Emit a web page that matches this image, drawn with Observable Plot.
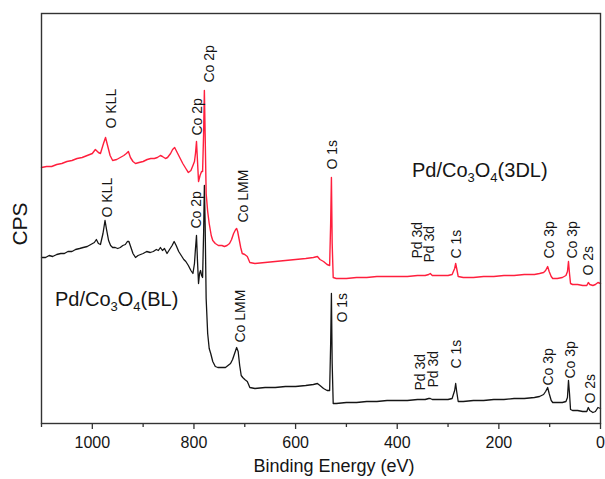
<!DOCTYPE html>
<html>
<head>
<meta charset="utf-8">
<script src="https://cdn.jsdelivr.net/npm/d3@7"></script>
<script src="https://cdn.jsdelivr.net/npm/@observablehq/plot@0.6"></script>
<style>
  html, body { margin: 0; padding: 0; background: #fff; }
  svg { display: block; }
</style>
</head>
<body>
<div id="chart"></div>
<script>
// ---- Data (binding energy in eV, intensity in arbitrary CPS units) ----
const ev3DL = [1100,1090,1080,1070,1060,1050,1040,1030,1020,1010,1000,994,988,984,978,974,970,965,960,952,945,938,933,929,925,920,915,908,900,892,885,878,872,866,862,856,852,846,842,838,834,828,822,816,811,806,802,799,797,795,793,791,788,785,783,781,779.5,778,776,773,770,766,763,758,752,745,740,735,730,726,722,718,716,714,711,708,705,700,695,690,680,660,640,620,600,580,565,557,552,545,538,533,531,529.5,528,526,520,500,480,460,440,420,400,380,360,345,338,335,331,320,300,292,287,285,283,280,270,250,230,210,190,170,150,130,120,112,108,104,101,97,94,85,75,68,65,63,61,59,55,45,35,27,24,21,15,10,5,0];
const cps3DL = [256,257,257,259,260,262,263,265,266,268,270,274,271,270,280,286,278,268,263,264,266,268,270,272,266,262,260,261,262,264,265,265,266,268,267,265,266,270,274,276,272,266,260,255,251,253,258,262,270,282,262,242,248,252,252,290,333,290,230,212,200,188,183,180,178,178,177,178,180,184,190,194,195,192,184,176,170,169,167,161,160,161,162,163,164,165,166,167,164,162,159,158,200,246,180,146,145,145,146,146,147,147,147,147,148,148,149,150,148,148,148,149,155,160,155,147,146,146,147,147,148,148,149,149,150,151,153,157,152,147,145,145,146,148,152,162,150,140,139,139,138,138,141,139,138,139,141,140];

const evBL = [1100,1092,1085,1078,1070,1062,1055,1048,1040,1033,1025,1018,1010,1003,996,992,988,984,979,975,972,968,964,960,955,950,945,940,935,931,928,924,920,915,910,905,900,893,886,880,874,870,866,862,858,853,848,843,839,835,830,825,820,816,811,806,802,799,797,795,793,791,789,787,785,783,781,779.5,778,776,773,770,767,763,758,753,745,738,733,728,724,720,716,713,710,707,704,700,695,690,680,660,640,620,600,580,565,557,552,545,538,533,531,529.5,528,526,520,500,480,460,440,420,400,380,360,345,338,335,331,320,300,292,287,285,283,280,270,250,230,210,190,170,150,130,120,112,108,104,101,97,94,85,75,68,65,63,61,59,55,45,35,27,24,21,15,10,5,0];
const cpsBL = [166,166,168,167,169,170,170,172,172,174,175,176,177,179,181,184,180,179,190,203,194,183,178,176,176,175,176,178,179,182,182,176,170,166,168,169,170,172,171,172,174,173,176,173,175,170,174,178,182,178,172,168,164,162,158,153,150,160,175,188,162,140,150,153,148,146,190,238,200,125,90,75,70,62,57,56,56,56,58,60,64,70,76,72,58,48,46,44,42,36,35,36,36,37,37,38,39,40,38,35,33,33,80,130,60,20,20,21,21,22,22,23,23,23,24,24,25,25,24,24,24,25,33,40,32,22,22,23,23,24,24,25,25,26,27,29,32,36,30,23,21,21,21,22,26,43,30,14,13,13,12,12,16,13,11,12,16,15];

// Peak annotations: text, energy (eV), intensity where the label starts
const labelText3DL = ["O KLL","Co 2p","Co 2p","Co LMM","O 1s","Pd 3d","Pd 3d","C 1s","Co 3p","Co 3p","O 2s"];
const labelEv3DL   = [962, 793, 769, 702.5, 527, 360, 336.5, 283, 100, 55, 24];
const labelCps3DL  = [295, 288, 341, 201, 254, 165, 161, 165, 165, 165, 148];

const labelTextBL = ["O KLL","Co 2p","Co LMM","O 1s","Pd 3d","Pd 3d","C 1s","Co 3p","Co 3p","O 2s"];
const labelEvBL   = [970, 795, 708, 508, 354, 329, 283, 102, 59, 20];
const labelCpsBL  = [206, 195, 81, 101, 33, 36, 55, 38, 45, 20];

// Sample names: [prefix, sub, mid, sub, suffix], anchor energy/intensity
const sampleNames = [
  {parts: ["Pd/Co", "3", "O", "4", "(3DL)"], ev: 370, cps: 246},
  {parts: ["Pd/Co", "3", "O", "4", "(BL)"], ev: 1072.5, cps: 117}
];

const majorTicks = [1000, 800, 600, 400, 200, 0];
const minorTicks = [1100, 900, 700, 500, 300, 100];

// ---- Build tables ----
const zip = (xs, ys) => xs.map((x, i) => ({ev: x, cps: ys[i]}));
const data3DL = zip(ev3DL, cps3DL);
const dataBL = zip(evBL, cpsBL);
const lab3DL = labelText3DL.map((t, i) => ({t, ev: labelEv3DL[i], cps: labelCps3DL[i]}));
const labBL = labelTextBL.map((t, i) => ({t, ev: labelEvBL[i], cps: labelCpsBL[i]}));

const RED = "#ff1f3d";
const INK = "#151515";
const FONT = "'Liberation Sans', Arial, Helvetica, sans-serif";

const plot = Plot.plot({
  width: 605,
  height: 479,
  marginLeft: 41,
  marginRight: 5,
  marginTop: 13,
  marginBottom: 56,
  style: {fontFamily: FONT, color: INK, background: "#fff", overflow: "visible"},
  x: {domain: [1100, 0]},
  y: {domain: [0, 410], axis: null},
  marks: [
    Plot.axisX({ticks: minorTicks, tickSize: 4, tickFormat: () => "", label: null, stroke: "#333", strokeWidth: 1.3}),
    Plot.axisX({ticks: majorTicks, tickSize: 6, tickPadding: 7, tickFormat: d => String(d), fontSize: 16, label: null, stroke: "#333", strokeWidth: 1.3, fill: INK}),
    Plot.line(dataBL, {x: "ev", y: "cps", stroke: INK, strokeWidth: 1.3}),
    Plot.line(data3DL, {x: "ev", y: "cps", stroke: RED, strokeWidth: 1.4}),
    Plot.text(lab3DL, {x: "ev", y: "cps", text: "t", rotate: -90, textAnchor: "start", lineAnchor: "middle", fontSize: 14, fill: INK}),
    Plot.text(labBL, {x: "ev", y: "cps", text: "t", rotate: -90, textAnchor: "start", lineAnchor: "middle", fontSize: 14, fill: INK}),
    Plot.frame({stroke: "#333", strokeWidth: 1.4})
  ]
});

document.getElementById("chart").appendChild(plot);

const svg = d3.select(plot);
const xs = plot.scale("x");
const ys = plot.scale("y");

// Sample names with real subscripts
for (const s of sampleNames) {
  const t = svg.append("text")
    .attr("x", xs.apply(s.ev))
    .attr("y", ys.apply(s.cps))
    .attr("text-anchor", "start")
    .attr("font-family", FONT)
    .attr("font-size", 20)
    .attr("fill", INK);
  s.parts.forEach((p, i) => {
    const sub = i === 1 || i === 3;
    const span = t.append("tspan").text(p);
    if (sub) span.attr("font-size", 13).attr("dy", 5);
    else if (i > 0) span.attr("dy", -5);
  });
}

// Axis titles
svg.append("text")
  .attr("x", 334).attr("y", 472)
  .attr("text-anchor", "middle")
  .attr("font-family", FONT).attr("font-size", 18).attr("fill", INK)
  .text("Binding Energy (eV)");

svg.append("text")
  .attr("transform", "translate(27,224) rotate(-90)")
  .attr("text-anchor", "middle")
  .attr("font-family", FONT).attr("font-size", 21).attr("fill", INK)
  .text("CPS");
</script>
</body>
</html>
